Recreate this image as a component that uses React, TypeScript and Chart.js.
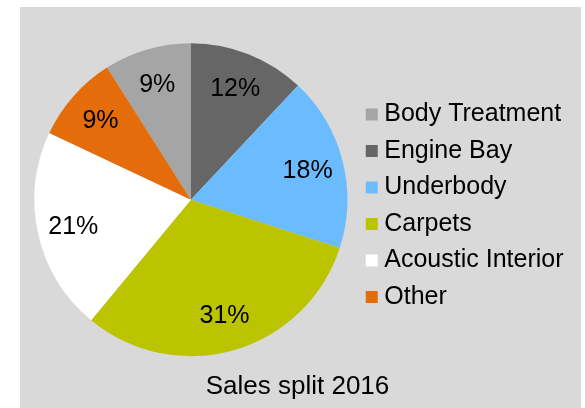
import React, { useEffect, useRef } from 'react';
import { Chart, registerables } from 'chart.js';

Chart.register(...registerables);

const categories = ['Body Treatment', 'Engine Bay', 'Underbody', 'Carpets', 'Acoustic Interior', 'Other'];
const shares = [9, 12, 18, 31, 21, 9];
const sliceColors = ['#a5a5a5', '#666666', '#6bbbff', '#bcc400', '#ffffff', '#e46c0a'];
const chartTitle = 'Sales split 2016';

const FONT = '"Liberation Sans", Arial, sans-serif';

const sliceLabels = {
  id: 'sliceLabels',
  afterDatasetsDraw(chart: any) {
    const { ctx } = chart;
    const meta = chart.getDatasetMeta(0);
    const data = chart.data.datasets[0].data as number[];
    ctx.save();
    ctx.font = `25px ${FONT}`;
    ctx.fillStyle = '#000000';
    ctx.textAlign = 'center';
    ctx.textBaseline = 'middle';
    meta.data.forEach((arc: any, i: number) => {
      const { x, y, startAngle, endAngle, outerRadius } = arc.getProps(
        ['x', 'y', 'startAngle', 'endAngle', 'outerRadius'],
        true
      );
      const mid = (startAngle + endAngle) / 2;
      const r = outerRadius * 0.77;
      ctx.fillText(`${data[i]}%`, x + Math.cos(mid) * r, y + Math.sin(mid) * r + 1);
    });
    ctx.restore();
  },
};

export default function App() {
  const ref = useRef<HTMLCanvasElement | null>(null);

  useEffect(() => {
    if (!ref.current) return;
    const chart = new Chart(ref.current, {
      type: 'pie',
      data: {
        labels: categories,
        datasets: [
          {
            data: shares,
            backgroundColor: sliceColors,
            borderWidth: 0,
            hoverOffset: 0,
          },
        ],
      },
      options: {
        responsive: false,
        animation: false,
        devicePixelRatio: 1,
        events: [],
        rotation: -32.4,
        radius: 156.5,
        layout: { padding: { left: 1.5, right: 7.5, top: 21, bottom: 0 } },
        plugins: {
          legend: {
            position: 'right',
            align: 'center',
            fullSize: false,
            title: {
              display: true,
              text: '',
              padding: { top: 11, bottom: 0 },
              font: { size: 1, lineHeight: 1 },
            },
            labels: {
              usePointStyle: true,
              pointStyle: 'rect',
              boxWidth: 0.01,
              boxHeight: 12,
              padding: 11.5,
              color: '#000000',
              font: { family: FONT, size: 25 },
            },
          },
          title: {
            display: true,
            text: chartTitle,
            position: 'bottom',
            color: '#000000',
            font: { family: FONT, size: 26, weight: 'normal', lineHeight: 1.2 },
            padding: { top: 0, bottom: 5.4 },
          },
          tooltip: { enabled: false },
        },
      } as any,
      plugins: [sliceLabels],
    });
    return () => chart.destroy();
  }, []);

  return (
    <canvas
      ref={ref}
      width={561}
      height={401}
      style={{ position: 'absolute', left: 20, top: 7, background: '#d9d9d9' }}
    />
  );
}
